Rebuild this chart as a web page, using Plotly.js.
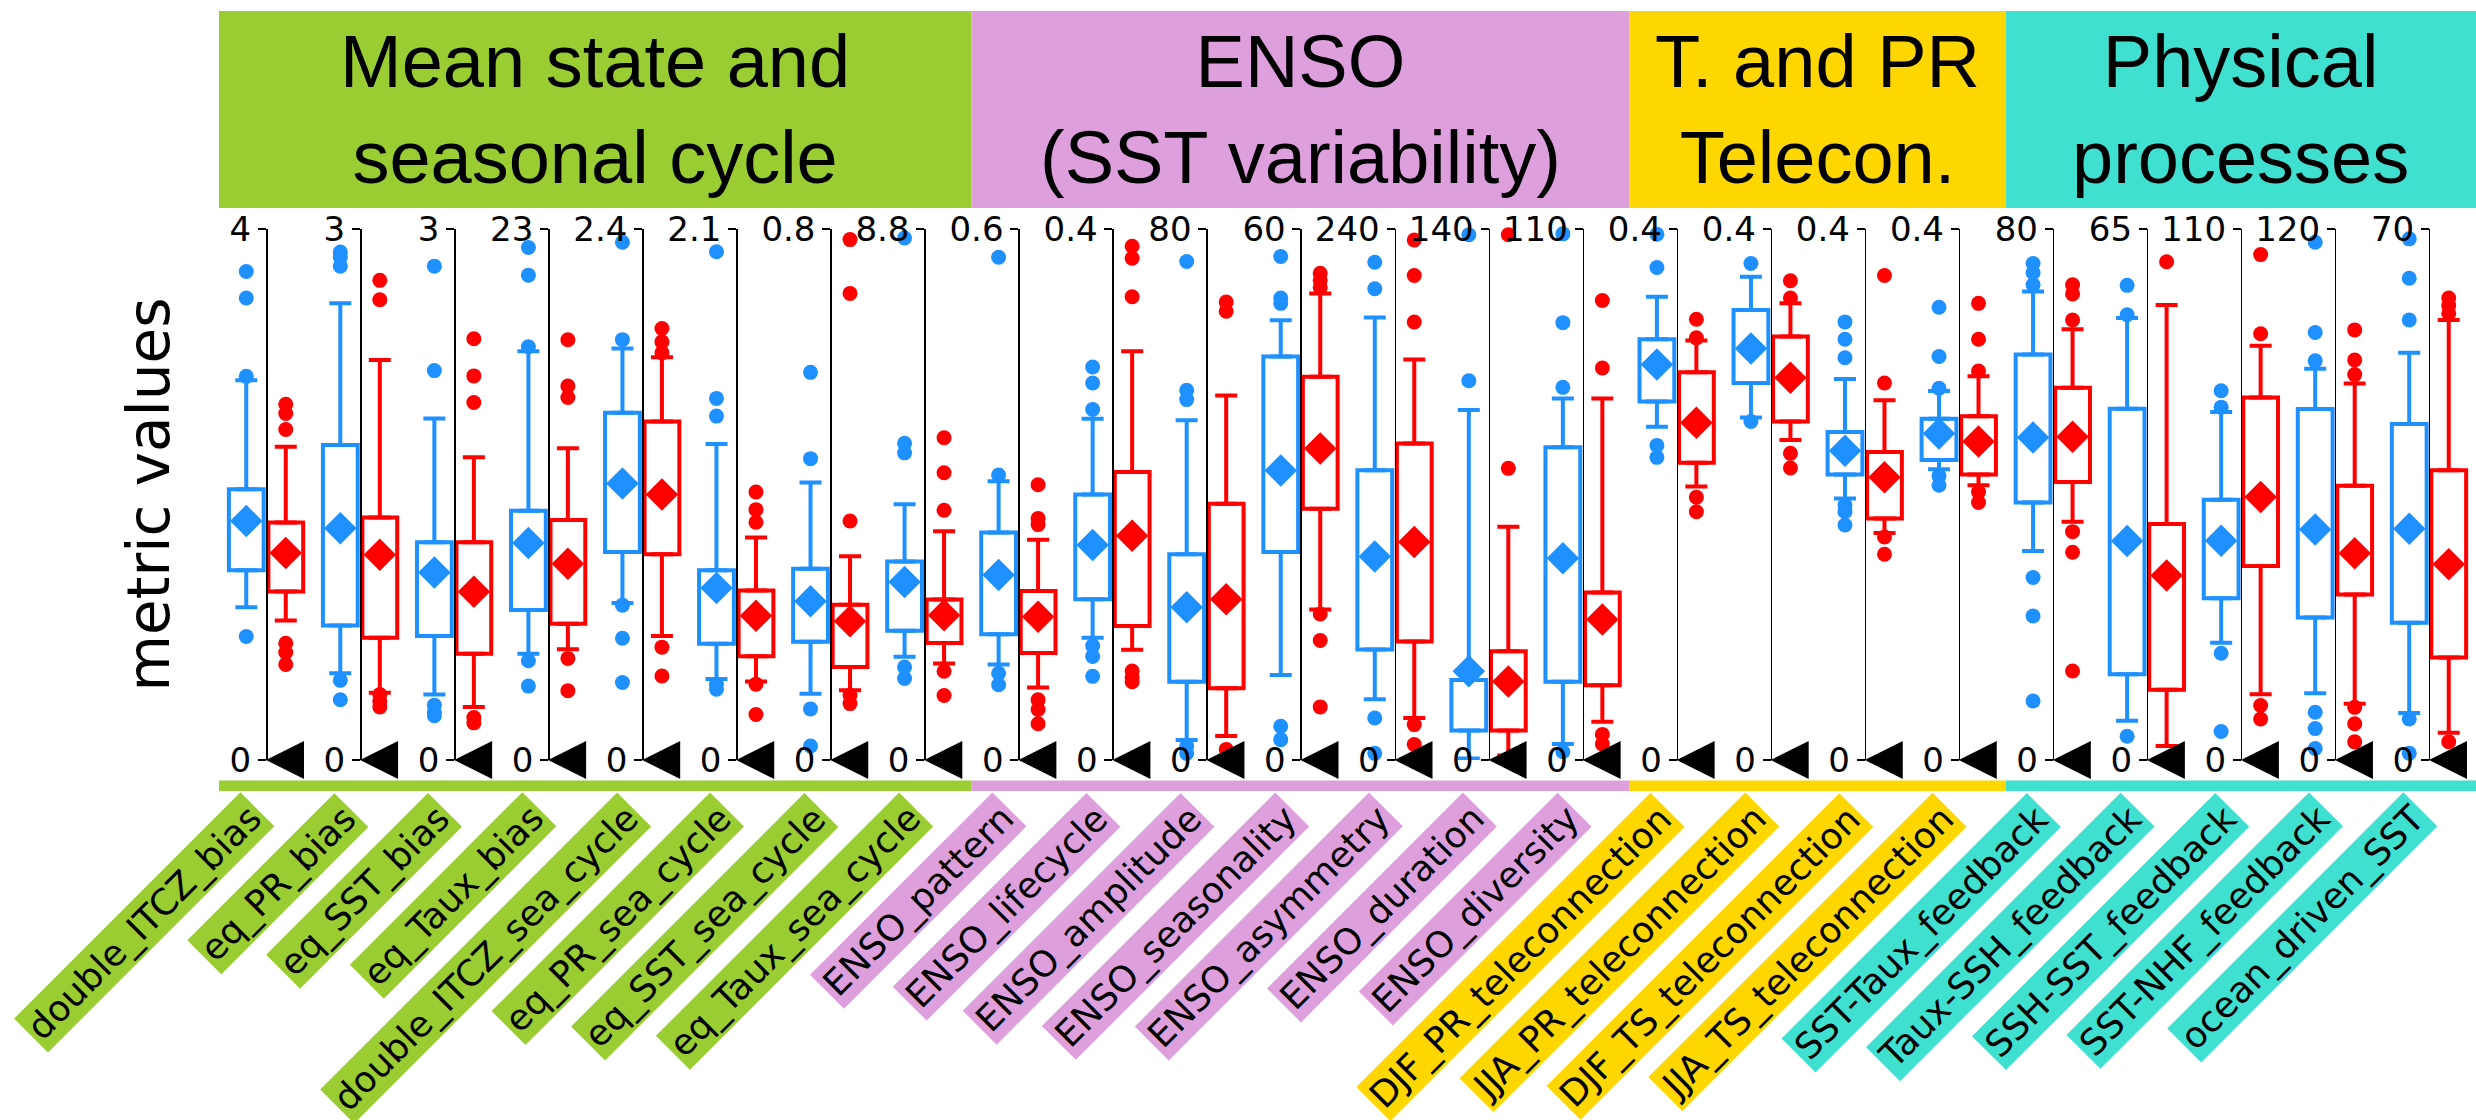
<!DOCTYPE html>
<html><head><meta charset="utf-8">
<script src="https://cdn.plot.ly/plotly-3.0.1.min.js"></script>
<style>html,body{margin:0;padding:0;background:#fff}#chart{width:2476px;height:1120px}</style>
</head><body><div id="chart"></div>
<script>
const metrics = ['double_ITCZ_bias','eq_PR_bias','eq_SST_bias','eq_Taux_bias','double_ITCZ_sea_cycle','eq_PR_sea_cycle','eq_SST_sea_cycle','eq_Taux_sea_cycle',
  'ENSO_pattern','ENSO_lifecycle','ENSO_amplitude','ENSO_seasonality','ENSO_asymmetry','ENSO_duration','ENSO_diversity',
  'DJF_PR_teleconnection','JJA_PR_teleconnection','DJF_TS_teleconnection','JJA_TS_teleconnection',
  'SST-Taux_feedback','Taux-SSH_feedback','SSH-SST_feedback','SST-NHF_feedback','ocean_driven_SST'];
const groupNames = ['Mean state and<br>seasonal cycle','ENSO<br>(SST variability)','T. and PR<br>Telecon.','Physical<br>processes'];
const groupColors = ['#9ACD32','#DDA0DD','#FFD700','#40E0D0'];
const groupSizes = [8,7,4,5];
const yMax = [4,3,3,23,2.4,2.1,0.8,8.8,0.6,0.4,80,60,240,140,110,0.4,0.4,0.4,0.4,80,65,110,120,70];
const refValue = [0,0,0,0,0,0,0,0,0,0,0,0,0,0,0,0,0,0,0,0,0,0,0,0];

// blue series
const blueLow  = [1.15,0.49,0.37,4.6,0.71,0.32,0.100,1.71,0.108,0.092,3.0,9.6,27.5,0.4,3.3,0.251,0.258,0.197,0.219,31.5,4.8,24.3,15.1,6.2];
const blueQ1   = [1.43,0.76,0.70,6.5,0.94,0.46,0.178,2.14,0.142,0.121,11.8,23.5,50.0,7.8,16.2,0.270,0.284,0.215,0.226,38.8,10.5,33.5,32.2,18.1];
const blueMean = [1.80,1.31,1.06,9.4,1.25,0.68,0.239,2.95,0.209,0.162,23.0,32.7,92,23.4,41.8,0.298,0.310,0.233,0.246,48.6,26.8,45.4,52.1,30.5];
const blueQ3   = [2.04,1.78,1.23,10.8,1.57,0.75,0.288,3.29,0.257,0.200,31.0,45.6,131,21.1,64.8,0.317,0.339,0.247,0.257,61.1,43.0,53.9,79.3,44.3];
const blueHigh = [2.86,2.58,1.93,17.7,1.86,1.25,0.418,4.24,0.315,0.257,51.2,49.7,200,92.3,74.9,0.349,0.364,0.287,0.278,70.6,54.1,72.1,88.4,53.7];
const blueOutliers = [
  [3.68,3.48,2.89,0.93],[2.87,2.84,2.79,0.45,0.34],[2.79,2.20,0.31,0.27,0.25],[22.2,21.0,17.9,4.3,3.2],
  [2.34,1.90,0.70,0.55,0.35],[2.01,1.43,1.36,0.30,0.28],[0.584,0.454,0.077,0.021],[8.65,5.25,5.09,1.54,1.35],
  [0.568,0.322,0.098,0.085],[0.296,0.284,0.264,0.086,0.078,0.063],[75.1,55.7,54.3,2.1,1.0],[56.9,52.2,51.6,3.8,2.3],
  [225,213,19,3],[138.5,100],[109,90.6,77.2,1.7],
  [0.396,0.371,0.237,0.228],[0.374,0.255],[0.330,0.317,0.303,0.192,0.187,0.177],[0.341,0.304,0.280,0.214,0.207],
  [74.8,73.4,71.6,27.5,21.7,8.9],[58.1,54.5,2.9],[76.5,73.1,22.1,5.9],[117,96.6,90.2,10.8,7.1,2.6],[68.7,63.5,58.0,5.4,0.9]
];

// red series
const redLow  = [1.05,0.38,0.30,4.8,0.56,0.31,0.105,1.60,0.082,0.083,3.6,17.0,19,1.2,7.9,0.206,0.241,0.171,0.207,35.9,1.7,13.6,12.7,3.6];
const redQ1   = [1.27,0.69,0.60,5.9,0.93,0.41,0.140,1.94,0.121,0.101,10.8,28.4,53.6,7.8,15.5,0.224,0.255,0.182,0.215,41.9,8.6,40.2,37.4,13.5];
const redMean = [1.56,1.16,0.95,8.5,1.20,0.57,0.209,2.40,0.162,0.169,24.2,35.2,98.5,20.7,29.1,0.254,0.288,0.213,0.240,48.7,22.6,54.5,46.7,25.8];
const redQ3   = [1.79,1.37,1.23,10.4,1.53,0.67,0.234,2.66,0.191,0.217,38.6,43.3,143,28.7,34.7,0.292,0.319,0.232,0.259,56.1,28.9,75.1,62.0,38.2];
const redHigh = [2.36,2.26,1.71,13.5,1.82,0.88,0.307,3.79,0.249,0.308,54.9,52.7,181,61.5,74.9,0.316,0.344,0.271,0.289,64.9,55.7,85.8,85.1,58.0];
const redOutliers = [
  [2.68,2.61,2.49,0.88,0.81,0.72],[2.71,2.60,0.37,0.33,0.30],[2.38,2.17,2.02,0.24,0.21],[18.2,16.2,15.7,4.4,3.0],
  [1.95,1.89,1.84,0.51,0.38],[1.06,0.99,0.94,0.30,0.18],[0.784,0.703,0.360,0.098,0.085],[5.34,4.76,4.14,1.47,1.07],
  [0.311,0.273,0.266,0.068,0.057,0.041],[0.387,0.378,0.349,0.067,0.062,0.059],[69.0,67.6,1.6],[55.0,54.2,53.4,16.5,13.5,6.0],
  [235,219,198,16,7],[138.5,76.9],[95.2,81.2,5.3,3.3],
  [0.332,0.318,0.198,0.187],[0.361,0.348,0.231,0.220],[0.365,0.284,0.168,0.155],[0.344,0.317,0.293,0.202,0.194],
  [71.6,70.2,66.3,34.4,31.3,13.4],[61.0],[104.7,88.3,11.3,8.5],[97.2,90.4,87.1,11.9,8.2,4.1],[60.9,59.9,58.9,2.4]
];

const BLUE = '#1E90FF', RED = '#FF0000';
const N = metrics.length;
const BOXW = 0.37, OFF = 0.21;
const traces = [];
function axId(i){ return i === 0 ? 'y' : 'y' + (i + 1); }

function addSeries(i, dx, color, low, q1, mean, q3, high, outs){
  const ax = axId(i), xc = i + dx;
  traces.push({type:'bar', x:[xc], base:[q1[i]], y:[q3[i]-q1[i]], width:[BOXW], yaxis:ax,
    marker:{color:'rgba(255,255,255,0)', line:{color:color, width:4}}, hoverinfo:'skip'});
  traces.push({type:'scatter', mode:'markers', x:[xc, xc], y:[high[i], low[i]], yaxis:ax, cliponaxis:false,
    marker:{opacity:0, size:2}, hoverinfo:'skip',
    error_y:{type:'data', symmetric:false, array:[0, q1[i]-low[i]], arrayminus:[high[i]-q3[i], 0],
      color:color, thickness:4, width:11}});
  const ys = [mean[i]].concat(outs[i]);
  traces.push({type:'scatter', mode:'markers', x:ys.map(()=>xc), y:ys, yaxis:ax, cliponaxis:false,
    marker:{color:color, opacity:1, symbol:ys.map((v,k)=>k===0?'diamond':'circle'),
      size:ys.map((v,k)=>k===0?25:15), line:{width:0}}});
}

const layout = {
  width:2476, height:1120, showlegend:false, paper_bgcolor:'#fff', plot_bgcolor:'#fff',
  margin:{l:219, r:0, t:229, b:360},
  barmode:'overlay',
  xaxis:{range:[-0.5, N-0.5], visible:false, domain:[0,1], fixedrange:true},
  shapes:[], annotations:[]
};

for(let i=0;i<N;i++){
  addSeries(i, -OFF, BLUE, blueLow, blueQ1, blueMean, blueQ3, blueHigh, blueOutliers);
  addSeries(i, OFF, RED, redLow, redQ1, redMean, redQ3, redHigh, redOutliers);
  traces.push({type:'scatter', mode:'markers', x:[i], y:[refValue[i]], yaxis:axId(i), cliponaxis:false,
    marker:{symbol:'arrow-left', size:38, color:'#000', opacity:1}, hoverinfo:'skip'});
  const key = i === 0 ? 'yaxis' : 'yaxis' + (i + 1);
  const ya = {
    range:[0, yMax[i]], autorange:false, fixedrange:true,
    anchor:'free', position:(i + 0.5) / N, side:'left',
    showgrid:false, zeroline:false, showline:true, linecolor:'#000', linewidth:1.5,
    ticks:'outside', ticklen:8, tickwidth:1.5, tickcolor:'#000',
    tickmode:'array', tickvals:[0, yMax[i]], ticktext:['0', String(yMax[i])],
    tickfont:{family:'DejaVu Sans', size:34, color:'#000'}
  };
  if(i > 0) ya.overlaying = 'y';
  layout[key] = ya;
}

// group bands, headers and metric labels
let start = 0;
const paperY = px => (760 - px) / 531;
groupSizes.forEach((sz, g) => {
  const x0 = start - 0.5, x1 = start + sz - 0.5;
  layout.shapes.push({type:'rect', xref:'x', yref:'paper', x0:x0, x1:x1, y0:paperY(208), y1:paperY(11),
    fillcolor:groupColors[g], line:{width:0}, layer:'below'});
  layout.shapes.push({type:'rect', xref:'x', yref:'paper', x0:x0, x1:x1, y0:paperY(791), y1:paperY(780.5),
    fillcolor:groupColors[g], line:{width:0}, layer:'below'});
  layout.annotations.push({xref:'x', yref:'paper', x:(x0 + x1) / 2, y:(paperY(208) + paperY(11)) / 2,
    text:groupNames[g], showarrow:false, xanchor:'center', yanchor:'middle',
    font:{family:'Liberation Sans', size:74, color:'#000'}});
  for(let i=start;i<start+sz;i++){
    layout.annotations.push({xref:'x', yref:'paper', x:i, y:paperY(792), xshift:9,
      text:metrics[i], showarrow:false, textangle:-45, xanchor:'right', yanchor:'top',
      bgcolor:groupColors[g], borderpad:3,
      font:{family:'DejaVu Sans', size:36, color:'#000'}});
  }
  start += sz;
});

layout.annotations.push({xref:'paper', yref:'paper', x:(148 - 219) / 2257, y:0.5, text:'metric values',
  showarrow:false, textangle:-90, xanchor:'center', yanchor:'middle',
  font:{family:'DejaVu Sans', size:58, color:'#000'}});

Plotly.newPlot('chart', traces, layout, {staticPlot:true});
</script>
</body></html>
